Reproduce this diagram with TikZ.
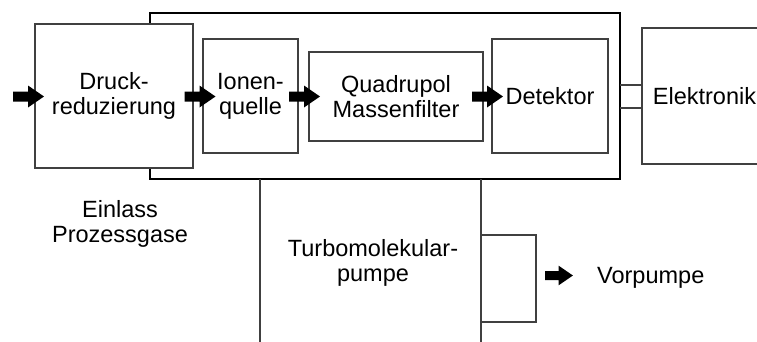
\documentclass[tikz,border=0pt]{standalone}
\usepackage{fontspec}
\setmainfont{Liberation Sans}
\begin{document}
\begin{tikzpicture}[x=1pt,y=-1pt,
  font=\fontsize{23.5}{25}\selectfont,
  box/.style={draw=black!75, line width=1.1pt, fill=white, outer sep=0pt, inner sep=0pt, align=center},
  chamberbox/.style={draw=black, line width=1.1pt, outer sep=0pt, inner sep=0pt},
  thinline/.style={draw=black!75, line width=1.1pt},
  lbl/.style={align=center, inner sep=0pt},
  blockarrow/.pic={\fill[black] (0,-5) -- (15,-5) -- (15,-11) -- (31,0) -- (15,11) -- (15,5) -- (0,5) -- cycle;}
]
\useasboundingbox (0,0) rectangle (757,341);
\clip (0,0) rectangle (757,341);

% vacuum chamber
\node[chamberbox, minimum width=470pt, minimum height=166pt] (chamber) at (385,96) {};

% components
\node[box, minimum width=158pt, minimum height=144pt] (druck) at (114,96) {Druck-\\reduzierung};
\node[box, minimum width=95pt, minimum height=114pt] (ion) at (250.5,96) {Ionen-\\quelle};
\node[box, minimum width=174pt, minimum height=89pt] (quad) at (396,96.5) {Quadrupol\\Massenfilter};
\node[box, minimum width=116pt, minimum height=114pt] (det) at (550,96) {Detektor};
\node[box, minimum width=125pt, minimum height=136pt] (elek) at (704.5,96) {Elektronik};

% connection chamber - electronics
\draw[thinline] ([yshift=11pt]elek.west) -- ([yshift=11pt]elek.west -| chamber.east);
\draw[thinline] ([yshift=-12pt]elek.west) -- ([yshift=-12pt]elek.west -| chamber.east);

% turbomolecular pump
\coordinate (tl) at (260,345);
\coordinate (tr) at (481,345);
\draw[thinline] (chamber.south -| tl) -- (tl);
\draw[thinline] (chamber.south -| tr) -- (tr);
\node[box, fill=none, minimum width=55pt, minimum height=87pt] (vbox) at (508.5,278.5) {};

% block arrows
\pic at (13,96.5) {blockarrow};
\pic at (184.5,96.5) {blockarrow};
\pic at (289,96.5) {blockarrow};
\pic at (472,96.5) {blockarrow};
\pic[scale=0.9] at (545,275.5) {blockarrow};

% labels
\node[lbl] (einlass) at (120,224) {Einlass\\Prozessgase};
\node[lbl] (turbo) at (373,263) {Turbomolekular-\\pumpe};
\node[lbl, anchor=base west] (vor) at (597,283) {Vorpumpe};
\end{tikzpicture}
\end{document}
